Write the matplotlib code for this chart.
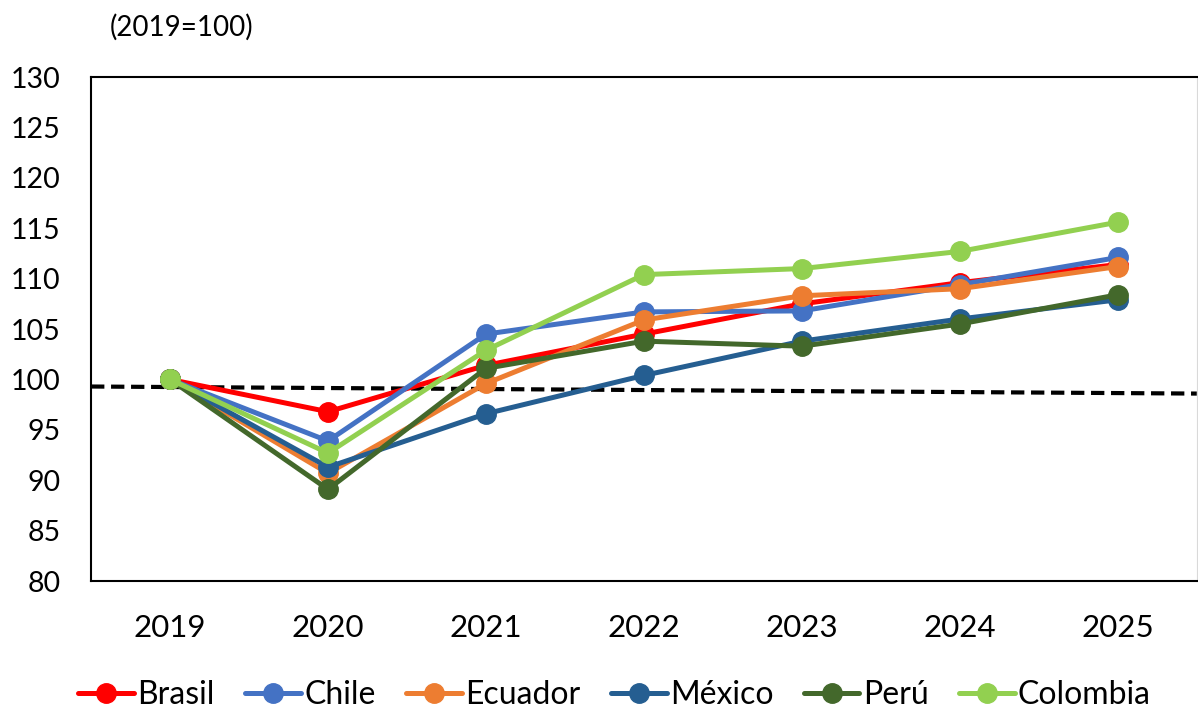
import matplotlib.pyplot as plt

plt.rcParams['font.family'] = ['Lato', 'DejaVu Sans']

years = ['2019', '2020', '2021', '2022', '2023', '2024', '2025']
brasil = [100, 96.8, 101.4, 104.5, 107.5, 109.6, 111.4]
chile = [100, 93.9, 104.5, 106.7, 106.8, 109.4, 112.1]
ecuador = [100, 90.7, 99.6, 105.9, 108.3, 109.0, 111.2]
mexico = [100, 91.3, 96.6, 100.4, 103.8, 106.0, 107.9]
peru = [100, 89.1, 101.1, 103.8, 103.3, 105.5, 108.4]
colombia = [100, 92.7, 102.9, 110.4, 111.0, 112.7, 115.6]
ref_line = [99.3, 98.6]

series = [
    ('Brasil', brasil, '#FF0000'),
    ('Chile', chile, '#4472C4'),
    ('Ecuador', ecuador, '#ED7D31'),
    ('México', mexico, '#255E91'),
    ('Perú', peru, '#43682B'),
    ('Colombia', colombia, '#92D050'),
]

fig = plt.figure(figsize=(11.98, 7.13), dpi=100)
ax = fig.add_axes([0.076, 0.185, 0.923, 0.707])

x = list(range(len(years)))
for name, vals, col in series:
    ax.plot(x, vals, color=col, lw=3.6, marker='o', markersize=14, label=name,
            solid_capstyle='round')

# línea de referencia punteada
ax.plot([-0.5, 6.5], ref_line, color='black', lw=3, ls=(0, (3.2, 1.6)),
        zorder=1)

ax.set_xlim(-0.5, 6.5)
ax.set_ylim(80, 130)
ax.set_yticks(range(80, 131, 5))
ax.set_xticks(x)
ax.set_xticklabels(years)
ax.tick_params(axis='y', length=0, pad=22, labelsize=20.5)
ax.tick_params(axis='x', length=0, pad=24, labelsize=22.5)
for s in ['left', 'bottom', 'top']:
    ax.spines[s].set_linewidth(1.5)
    ax.spines[s].set_color('black')
ax.spines['right'].set_color('#d9d9d9')

fig.text(0.092, 0.962, '(2019=100)', fontsize=20, ha='left', va='center')

fig.legend(loc='lower center', bbox_to_anchor=(0.513, -0.036), ncol=6,
           frameon=False, fontsize=23, handlelength=1.75, handletextpad=0.1,
           columnspacing=0.95)

fig.savefig('out.png', dpi=100)
